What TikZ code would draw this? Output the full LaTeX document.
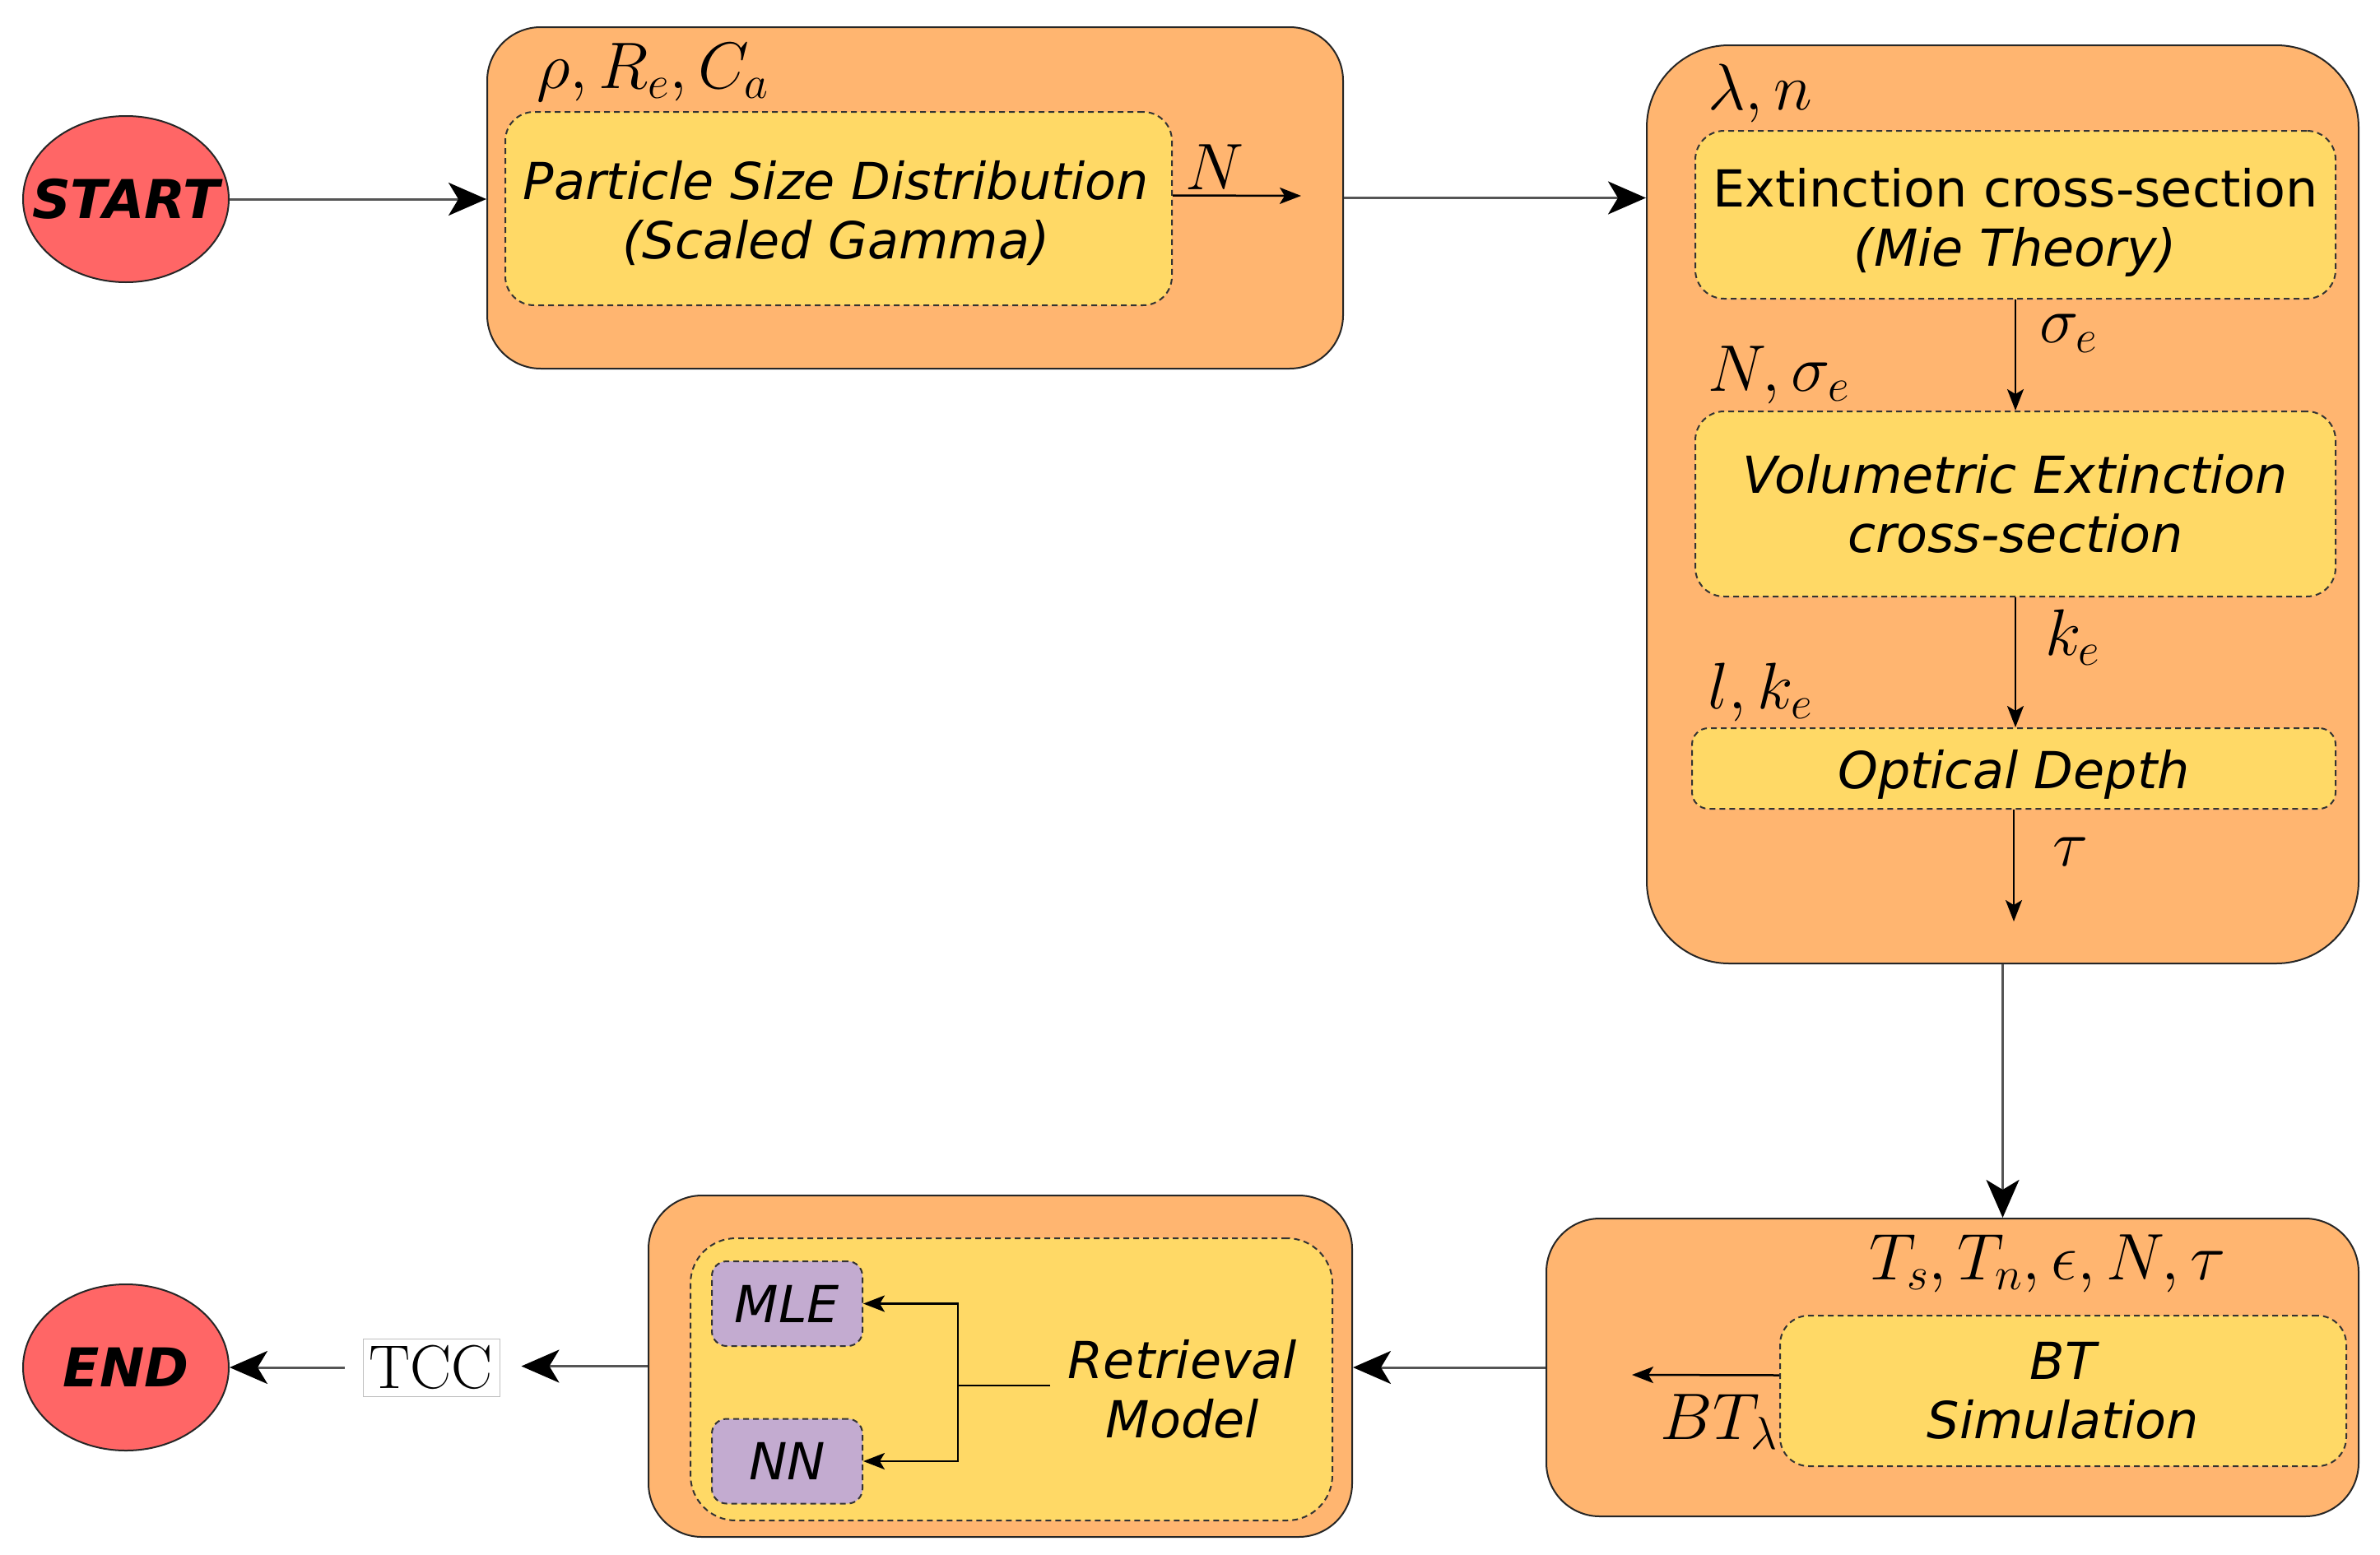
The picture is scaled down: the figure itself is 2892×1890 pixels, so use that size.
\documentclass[tikz,border=0pt]{standalone}
\usepackage{fix-cm}
\usepackage[no-math]{fontspec}
\setmainfont{DejaVu Sans}
\usetikzlibrary{arrows.meta,shapes.geometric}
\definecolor{orfill}{HTML}{FFB570}
\definecolor{yelfill}{HTML}{FFD966}
\definecolor{redfill}{HTML}{FF6666}
\definecolor{purfill}{HTML}{C3ABD0}
\definecolor{arrgray}{HTML}{555555}
\begin{document}
\begin{tikzpicture}[x=1pt,y=-1pt,
  txt/.style={font=\fontsize{62}{72}\selectfont\itshape, align=center},
  uptxt/.style={font=\fontsize{62}{72}\selectfont, align=center},
  mathlab/.style={font=\fontsize{80}{84}\selectfont, inner sep=0pt},
  outerbox/.style={draw=black!85, fill=orfill, line width=2pt, rounded corners=#1, inner sep=0pt},
  outerbox/.default=65pt,
  innerbox/.style={draw=black!80, fill=yelfill, line width=2pt, dash pattern=on 7pt off 5pt, rounded corners=#1, inner sep=0pt},
  innerbox/.default=35pt,
  purbox/.style={draw=black!80, fill=purfill, line width=2pt, dash pattern=on 7pt off 5pt, rounded corners=18pt, inner sep=0pt, minimum width=183pt, minimum height=103pt, font=\fontsize{62}{72}\selectfont\itshape},
  term/.style={ellipse, draw=black!85, fill=redfill, line width=2pt, minimum width=250pt, minimum height=202pt, inner sep=0pt},
  termtxt/.style={inner sep=0pt, font=\fontsize{65}{70}\selectfont\bfseries\itshape},
  bigarrow/.style={draw=arrgray, line width=3pt, -{Stealth[length=46pt, width=40pt, inset=12pt, black]}},
  smallarrow/.style={draw=black, line width=2.5pt, -{Stealth[length=26pt, width=20pt, inset=6pt]}},
  plainline/.style={draw=black, line width=2.5pt},
  tccbox/.style={draw=gray!50, fill=white, line width=1pt, inner sep=3pt, minimum height=70pt, minimum width=166pt, font=\fontsize{75}{75}\selectfont}
]
\useasboundingbox (0,0) rectangle (2892,1890);

% terminals
\node[term] (start) at (153,242) {};
\node[termtxt] (starttxt) at (start.center) {START};
\node[term] (end) at (153,1662) {};
\node[termtxt] (endtxt) at (end.center) {END};

% box 1
\node[outerbox, minimum width=1040pt, minimum height=415pt] (box1) at (1112,240.5) {};
\node[innerbox, minimum width=810pt, minimum height=235pt] (psd) at (1019,253.5) {};
\node[txt] (psdtxt) at (1016,259) {Particle Size Distribution\\(Scaled Gamma)};
\node[mathlab, anchor=west] (l1) at (652,88) {$\rho, R_e, C_a$};
\node[mathlab] (nl) at (1476,203) {$N$};
\coordinate (nend) at (1581,238);

% box 2
\node[outerbox=100pt, minimum width=865pt, minimum height=1116pt] (box2) at (2433.5,613) {};
\node[innerbox, minimum width=778pt, minimum height=204pt] (ext) at (2449,261) {};
\node[uptxt] (exttxt) at (2449,270) {Extinction cross-section\\{\itshape (Mie Theory)}};
\node[innerbox, minimum width=778pt, minimum height=225pt, txt] (vol) at (2449,612.5) {Volumetric Extinction\\cross-section};
\node[innerbox=20pt, minimum width=782pt, minimum height=98pt] (opt) at (2447,934) {};
\node[txt] (opttxt) at (2447,941) {Optical Depth};
\node[mathlab, anchor=west] (l2) at (2075,113) {$\lambda, n$};
\node[mathlab, anchor=west] (se) at (2478,405) {$\sigma_e$};
\node[mathlab, anchor=west] (l3) at (2075,456) {$N, \sigma_e$};
\node[mathlab, anchor=west] (ke) at (2485,775) {$k_e$};
\node[mathlab, anchor=west] (l4) at (2075,841) {$l, k_e$};
\node[mathlab, anchor=west] (tl) at (2494,1035) {$\tau$};
\coordinate (tauend) at (2447,1120);

% box 3
\node[outerbox, minimum width=987pt, minimum height=362pt] (box3) at (2372.5,1662) {};
\node[innerbox, minimum width=688pt, minimum height=183pt, txt] (bts) at (2507,1690.5) {BT\\Simulation};
\node[mathlab] (l5) at (2488,1536) {$T_s, T_n, \epsilon, N, \tau$};
\node[mathlab, anchor=east] (btl) at (2160,1728) {$BT_\lambda$};
\coordinate (btend) at (1983,1671);

% box 4
\node[outerbox, minimum width=855pt, minimum height=415pt] (box4) at (1215.5,1660.5) {};
\node[innerbox=55pt, minimum width=780pt, minimum height=343pt] (ret) at (1229,1676.5) {};
\node[purbox] (mle) at (956.5,1584.5) {MLE};
\node[purbox] (nn) at (956.5,1776) {NN};
\node[txt] (rettext) at (1437,1688) {Retrieval\\Model};
\coordinate (branch) at (1164,1684);

% TCC
\node[tccbox] (tcc) at (524,1662) {$\mathrm{TCC}$};

% connectors
\draw[bigarrow] (start.east) -- (start.east -| box1.west);
\draw[smallarrow] ([yshift=16pt]psd.east) -- (nend);
\draw[bigarrow] (box1.east) -- (box1.east -| box2.west);
\draw[smallarrow] (ext.south) -- (vol.north);
\draw[smallarrow] (vol.south) -- (vol.south |- opt.north);
\draw[smallarrow] (opt.south) -- (tauend);
\draw[bigarrow] (box2.south) -- (box2.south |- box3.north);
\draw[smallarrow] ([yshift=19pt]bts.west) -- (btend);
\draw[bigarrow] (box3.west) -- (box3.west -| box4.east);
\draw[plainline] ([xshift=-18pt]rettext.west |- branch) -- (branch);
\draw[smallarrow] (branch) |- (mle.east);
\draw[smallarrow] (branch) |- (nn.east);
\draw[bigarrow, shorten >=26pt] (box4.west) -- (box4.west -| tcc.east);
\draw[bigarrow, shorten <=22pt] (tcc.west) -- (end.east);
\end{tikzpicture}
\end{document}
